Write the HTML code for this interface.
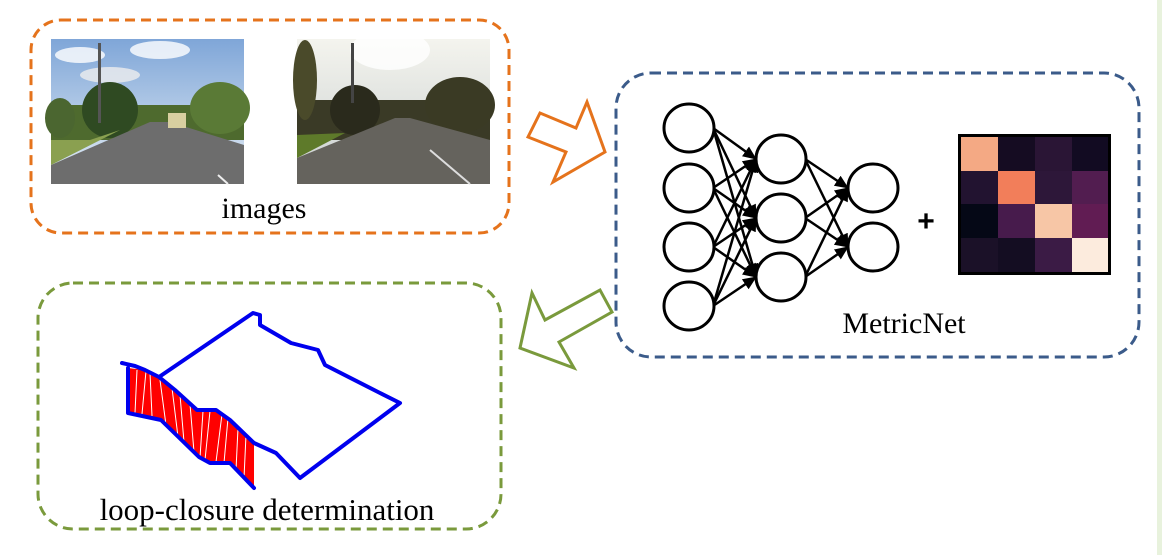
<!DOCTYPE html>
<html><head><style>
html,body{margin:0;padding:0;background:#fff;}
body{width:1162px;height:555px;position:relative;overflow:hidden;}
</style></head><body>
<svg width="1162" height="555" viewBox="0 0 1162 555" xmlns="http://www.w3.org/2000/svg" style="position:absolute;left:0;top:0">
<defs>
<marker id="ah2" markerWidth="14" markerHeight="12" refX="13" refY="6" orient="auto" markerUnits="userSpaceOnUse"><path d="M0,0 L14,6 L0,12 z" fill="#000"/></marker>
<linearGradient id="sky1" x1="0" y1="0" x2="0" y2="1"><stop offset="0" stop-color="#7fa6d8"/><stop offset="1" stop-color="#e6eef5"/></linearGradient>
<linearGradient id="sky2" x1="0" y1="0" x2="0" y2="1"><stop offset="0" stop-color="#f4f4ee"/><stop offset="1" stop-color="#c9cfcf"/></linearGradient>
</defs>
<rect x="1157" y="0" width="5" height="555" fill="#e8f2dd"/>

<rect x="31" y="20" width="478" height="213" rx="30" fill="none" stroke="#e5731c" stroke-width="3" stroke-dasharray="10,6"/>
<g>
<rect x="51" y="39" width="193" height="145" fill="url(#sky1)"/>
<ellipse cx="80" cy="55" rx="25" ry="8" fill="#fff" opacity="0.8"/>
<ellipse cx="160" cy="50" rx="30" ry="9" fill="#fff" opacity="0.8"/>
<ellipse cx="110" cy="75" rx="30" ry="8" fill="#eee" opacity="0.8"/>
<rect x="51" y="105" width="193" height="35" fill="#4e6a2e"/>
<ellipse cx="110" cy="110" rx="28" ry="28" fill="#2f4a22"/>
<ellipse cx="60" cy="118" rx="15" ry="20" fill="#4b6630"/>
<ellipse cx="220" cy="108" rx="30" ry="26" fill="#5a7a36"/>
<rect x="98" y="43" width="3" height="80" fill="#555"/>
<polygon points="51,184 244,184 244,145 170,122 150,122 51,165" fill="#6d6d6d"/>
<polygon points="51,140 90,140 120,130 51,165" fill="#8aa050"/>
<rect x="168" y="113" width="18" height="15" fill="#d8cfa0"/>
<line x1="218" y1="175" x2="228" y2="184" stroke="#eee" stroke-width="2"/>
</g>
<g>
<rect x="297" y="39" width="193" height="145" fill="url(#sky2)"/>
<ellipse cx="390" cy="50" rx="40" ry="20" fill="#fff" opacity="0.8"/>
<rect x="297" y="100" width="193" height="40" fill="#3a3a26"/>
<ellipse cx="355" cy="110" rx="25" ry="25" fill="#2a2a1c"/>
<ellipse cx="305" cy="80" rx="12" ry="40" fill="#4a4a2a"/>
<ellipse cx="460" cy="105" rx="35" ry="28" fill="#3a3a24"/>
<rect x="351" y="43" width="3" height="60" fill="#444"/>
<polygon points="297,184 490,184 490,140 410,118 395,118 297,158" fill="#65635d"/>
<polygon points="297,135 345,133 297,158" fill="#5e7a2a"/>
<line x1="430" y1="150" x2="470" y2="184" stroke="#ddd" stroke-width="2"/>
</g>
<text x="264" y="218" text-anchor="middle" font-family="Liberation Serif, serif" font-size="30">images</text>

<polygon points="528,137 540,113 576,128 587,102 605,152 553,182 566,152" fill="#fff" stroke="#e5731c" stroke-width="3"/>

<rect x="616" y="73" width="523" height="284" rx="35" fill="none" stroke="#3b5b8a" stroke-width="3" stroke-dasharray="10,6"/>
<g stroke="#000" stroke-width="2.5" fill="none">
<g marker-end="url(#ah2)">
<line x1="713" y1="128" x2="756" y2="159"/><line x1="713" y1="128" x2="756" y2="218"/><line x1="713" y1="128" x2="756" y2="277"/>
<line x1="713" y1="188" x2="756" y2="159"/><line x1="713" y1="188" x2="756" y2="218"/><line x1="713" y1="188" x2="756" y2="277"/>
<line x1="713" y1="247" x2="756" y2="159"/><line x1="713" y1="247" x2="756" y2="218"/><line x1="713" y1="247" x2="756" y2="277"/>
<line x1="713" y1="306" x2="756" y2="159"/><line x1="713" y1="306" x2="756" y2="218"/><line x1="713" y1="306" x2="756" y2="277"/>
<line x1="805" y1="159" x2="848" y2="188"/><line x1="805" y1="159" x2="848" y2="247"/>
<line x1="805" y1="218" x2="848" y2="188"/><line x1="805" y1="218" x2="848" y2="247"/>
<line x1="805" y1="277" x2="848" y2="188"/><line x1="805" y1="277" x2="848" y2="247"/>
</g>
<g stroke-width="3" fill="#fff">
<ellipse cx="689" cy="128" rx="25" ry="24"/><ellipse cx="689" cy="188" rx="25" ry="24"/><ellipse cx="689" cy="247" rx="25" ry="24"/><ellipse cx="689" cy="306" rx="25" ry="24"/>
<ellipse cx="781" cy="159" rx="25" ry="24"/><ellipse cx="781" cy="218" rx="25" ry="24"/><ellipse cx="781" cy="277" rx="25" ry="24"/>
<ellipse cx="873" cy="188" rx="25" ry="24"/><ellipse cx="873" cy="247" rx="25" ry="24"/>
</g>
</g>
<text x="926" y="231" text-anchor="middle" font-family="Liberation Sans, sans-serif" font-weight="bold" font-size="30">+</text>
<g>
<rect x="958" y="134" width="153" height="141" fill="#000"/>
<rect x="961" y="137" width="37" height="34" fill="#f4a984"/><rect x="998" y="137" width="37" height="34" fill="#150c22"/><rect x="1035" y="137" width="37" height="34" fill="#2a1535"/><rect x="1072" y="137" width="36" height="34" fill="#120b22"/>
<rect x="961" y="171" width="37" height="33" fill="#221330"/><rect x="998" y="171" width="37" height="33" fill="#f27e5a"/><rect x="1035" y="171" width="37" height="33" fill="#2d1739"/><rect x="1072" y="171" width="36" height="33" fill="#521d50"/>
<rect x="961" y="204" width="37" height="34" fill="#050816"/><rect x="998" y="204" width="37" height="34" fill="#471b4c"/><rect x="1035" y="204" width="37" height="34" fill="#f7c6a6"/><rect x="1072" y="204" width="36" height="34" fill="#611c53"/>
<rect x="961" y="238" width="37" height="34" fill="#1b1128"/><rect x="998" y="238" width="37" height="34" fill="#140d22"/><rect x="1035" y="238" width="37" height="34" fill="#3b1b45"/><rect x="1072" y="238" width="36" height="34" fill="#fcebdd"/>
</g>
<text x="904" y="333" text-anchor="middle" font-family="Liberation Serif, serif" font-size="30">MetricNet</text>

<polygon points="520,348 532,293 545,320 600,290 612,312 559,342 574,368" fill="#fff" stroke="#7a9a3c" stroke-width="3"/>

<rect x="38" y="283" width="463" height="246" rx="35" fill="none" stroke="#7a9a3c" stroke-width="3" stroke-dasharray="10,6"/>

<polygon points="128,368 145,370 159,377 175,390 197,410 216,410 230,420 254,443 254,488 230,463 210,463 199,457 161,420 128,413" fill="#f00"/>
<g stroke="#fff" stroke-width="1">
<line x1="137" y1="370" x2="135" y2="413"/><line x1="146" y1="371" x2="142" y2="414"/><line x1="150" y1="373" x2="152" y2="416"/>
<line x1="160" y1="380" x2="166" y2="425"/><line x1="172" y1="388" x2="178" y2="437"/><line x1="180" y1="395" x2="184" y2="442"/>
<line x1="190" y1="404" x2="194" y2="452"/><line x1="203" y1="411" x2="200" y2="458"/><line x1="210" y1="411" x2="205" y2="460"/>
<line x1="222" y1="414" x2="216" y2="462"/><line x1="228" y1="418" x2="224" y2="463"/><line x1="238" y1="428" x2="236" y2="470"/><line x1="246" y1="435" x2="244" y2="478"/>
</g>
<g fill="none" stroke="#0000ee" stroke-width="4" stroke-linejoin="round" stroke-linecap="round">
<polyline points="122,363 135,366 145,370 159,377 175,390 197,410 216,410 230,420 254,443 276,453 300,478 400,403 380,393 325,365 318,350 291,343 260,325 260,315 253,313 159,377"/>
<polyline points="128,368 128,413 161,420 199,457 210,463 230,463 254,488"/>
</g>
<text x="267" y="520" text-anchor="middle" font-family="Liberation Serif, serif" font-size="31">loop-closure determination</text>
</svg>
</body></html>
